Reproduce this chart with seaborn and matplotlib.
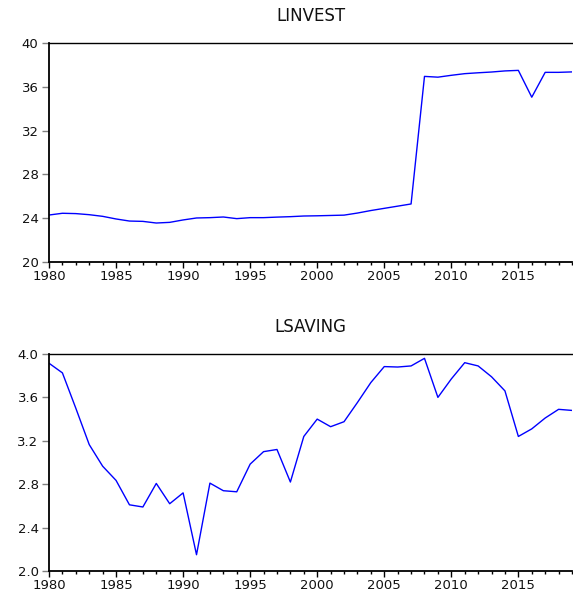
import numpy as np
import pandas as pd
import matplotlib
matplotlib.use("Agg")
import matplotlib.pyplot as plt
from matplotlib.ticker import MultipleLocator
import seaborn as sns

years = list(range(1980, 2020))

linvest = [24.29, 24.45, 24.42, 24.32, 24.17, 23.93, 23.74, 23.71, 23.56, 23.62,
           23.84, 24.02, 24.05, 24.11, 23.96, 24.05, 24.05, 24.10, 24.14, 24.20,
           24.22, 24.25, 24.28, 24.47, 24.70, 24.90, 25.10, 25.30, 36.95, 36.88,
           37.05, 37.20, 37.28, 37.35, 37.45, 37.50, 35.05, 37.32, 37.32, 37.36]

lsaving = [3.915, 3.826, 3.50, 3.165, 2.966, 2.835, 2.61, 2.59, 2.807, 2.62,
           2.72, 2.15, 2.81, 2.74, 2.73, 2.985, 3.10, 3.12, 2.82, 3.24,
           3.40, 3.33, 3.376, 3.553, 3.737, 3.884, 3.88, 3.89, 3.96, 3.60,
           3.77, 3.92, 3.89, 3.79, 3.66, 3.24, 3.31, 3.41, 3.49, 3.48]

df = pd.DataFrame({"year": years, "LINVEST": linvest, "LSAVING": lsaving})

sns.set_style("white")
plt.rcParams["font.family"] = ["DejaVu Sans"]

fig = plt.figure(figsize=(5.73, 5.92), dpi=100)
ax1 = fig.add_axes([49 / 573, 1 - 262 / 592, 523 / 573, 219 / 592])
ax2 = fig.add_axes([49 / 573, 1 - 571 / 592, 523 / 573, 217 / 592])

panels = [
    (ax1, "LINVEST", (20, 40), 4, "{:.0f}"),
    (ax2, "LSAVING", (2.0, 4.0), 0.4, "{:.1f}"),
]

for ax, name, ylim, ystep, fmt in panels:
    sns.lineplot(data=df, x="year", y=name, ax=ax, color="#0000ff", linewidth=1.0)
    ax.set_xlim(1980, 2019)
    ax.set_ylim(*ylim)
    ax.set_xlabel("")
    ax.set_ylabel("")
    ax.set_title(name, fontsize=12, pad=15.5, color="#111111")
    ax.xaxis.set_major_locator(MultipleLocator(5))
    ax.xaxis.set_minor_locator(MultipleLocator(1))
    ticks = np.arange(ylim[0], ylim[1] + ystep / 2, ystep)
    ax.set_yticks(ticks)
    ax.set_yticklabels([fmt.format(t) for t in ticks])
    ax.tick_params(axis="x", which="major", direction="out", length=4, width=1,
                   color="black", labelsize=9.5, pad=1.5, bottom=True,
                   labelcolor="#111111")
    ax.tick_params(axis="x", which="minor", direction="out", length=2.5, width=1,
                   color="black", bottom=True)
    ax.tick_params(axis="y", which="major", direction="out", length=5, width=1,
                   color="#808080", labelsize=9.5, pad=2.5, left=True,
                   labelcolor="#111111")
    for side in ["left", "bottom"]:
        ax.spines[side].set_color("black")
        ax.spines[side].set_linewidth(1.3)
    ax.spines["top"].set_color("black")
    ax.spines["top"].set_linewidth(1.0)
    ax.spines["right"].set_visible(False)

fig.savefig("out.png", dpi=100)
